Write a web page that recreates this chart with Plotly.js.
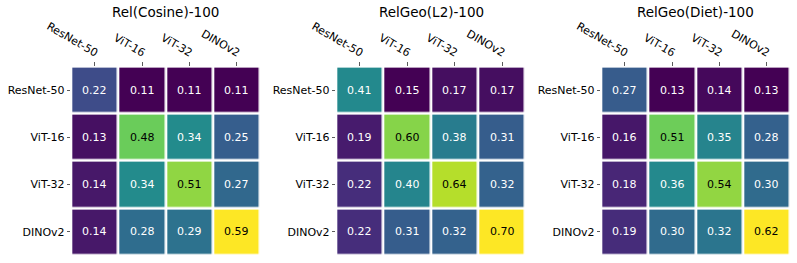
<!DOCTYPE html>
<html>
<head>
<meta charset="utf-8">
<script src="https://cdn.plot.ly/plotly-3.0.1.min.js"></script>
<style>html,body{margin:0;padding:0;background:#fff;}#chart{width:797px;height:263px;}</style>
</head>
<body>
<div id="chart"></div>
<script>
// ---- data ----
const models = ["ResNet-50", "ViT-16", "ViT-32", "DINOv2"];
const titles = ["Rel(Cosine)-100", "RelGeo(L2)-100", "RelGeo(Diet)-100"];
const relCosine = [
  [0.22, 0.11, 0.11, 0.11],
  [0.13, 0.48, 0.34, 0.25],
  [0.14, 0.34, 0.51, 0.27],
  [0.14, 0.28, 0.29, 0.59]
];
const relGeoL2 = [
  [0.41, 0.15, 0.17, 0.17],
  [0.19, 0.60, 0.38, 0.31],
  [0.22, 0.40, 0.64, 0.32],
  [0.22, 0.31, 0.32, 0.70]
];
const relGeoDiet = [
  [0.27, 0.13, 0.14, 0.13],
  [0.16, 0.51, 0.35, 0.28],
  [0.18, 0.36, 0.54, 0.30],
  [0.19, 0.30, 0.32, 0.62]
];
const matrices = [relCosine, relGeoL2, relGeoDiet];

// ---- style ----
const W = 797, H = 263;
const viridis = [
  [0.0, "#440154"], [0.1, "#482576"], [0.2, "#414487"], [0.3, "#35608D"],
  [0.4, "#2A788E"], [0.5, "#21908C"], [0.6, "#22A884"], [0.7, "#43BF71"],
  [0.8, "#7AD151"], [0.9, "#BBDF27"], [1.0, "#FDE725"]
];
const xPix = [[71.3, 260.3], [336.3, 525.7], [601.3, 790.3]];
const yPix = [66.6, 255.4];
const FONT = "DejaVu Sans, Liberation Sans, sans-serif";

const data = [];
const annotations = [];
const layout = {
  width: W, height: H,
  margin: {l: 0, r: 0, t: 0, b: 0},
  paper_bgcolor: "#fff", plot_bgcolor: "#fff",
  font: {family: FONT, size: 11, color: "#000"},
  showlegend: false,
  annotations: annotations
};

matrices.forEach((m, k) => {
  const flat = m.flat();
  const zmin = Math.min(...flat), zmax = Math.max(...flat);
  const xa = k === 0 ? "x" : "x" + (k + 1);
  const ya = k === 0 ? "y" : "y" + (k + 1);
  data.push({
    type: "heatmap",
    x: models, y: models, z: m,
    xaxis: xa, yaxis: ya,
    colorscale: viridis, zmin: zmin, zmax: zmax,
    showscale: false, xgap: 2.7, ygap: 2.7,
    hoverinfo: "skip"
  });
  const axKey = k === 0 ? "" : String(k + 1);
  layout["xaxis" + axKey] = {
    domain: [xPix[k][0] / W, xPix[k][1] / W],
    anchor: ya, side: "top", type: "category",
    tickangle: 30, ticks: "outside", ticklen: 3.5, tickwidth: 0.8, tickcolor: "#333",
    ticklabelshift: 3,
    showgrid: false, zeroline: false, showline: false,
    tickfont: {family: FONT, size: 11, color: "#000"},
    fixedrange: true
  };
  layout["yaxis" + axKey] = {
    domain: [1 - yPix[1] / H, 1 - yPix[0] / H],
    anchor: xa, type: "category", autorange: "reversed",
    ticks: "outside", ticklen: 3.5, tickwidth: 0.8, tickcolor: "#333",
    showgrid: false, zeroline: false, showline: false,
    tickfont: {family: FONT, size: 11, color: "#000"},
    fixedrange: true
  };
  for (let i = 0; i < models.length; i++) {
    for (let j = 0; j < models.length; j++) {
      const v = m[i][j];
      const t = (v - zmin) / (zmax - zmin);
      annotations.push({
        x: models[j], y: models[i], xref: xa, yref: ya,
        text: v.toFixed(2), showarrow: false,
        font: {family: FONT, size: 11, color: t > 0.6 ? "#000" : "#fff"}
      });
    }
  }
  annotations.push({
    x: (xPix[k][0] + xPix[k][1]) / 2 / W, y: 1 - 12 / H,
    xref: "paper", yref: "paper", xanchor: "center", yanchor: "middle",
    text: titles[k], showarrow: false,
    font: {family: FONT, size: 13.5, color: "#000"}
  });
});

Plotly.newPlot("chart", data, layout, {displayModeBar: false, staticPlot: true});
</script>
</body>
</html>
